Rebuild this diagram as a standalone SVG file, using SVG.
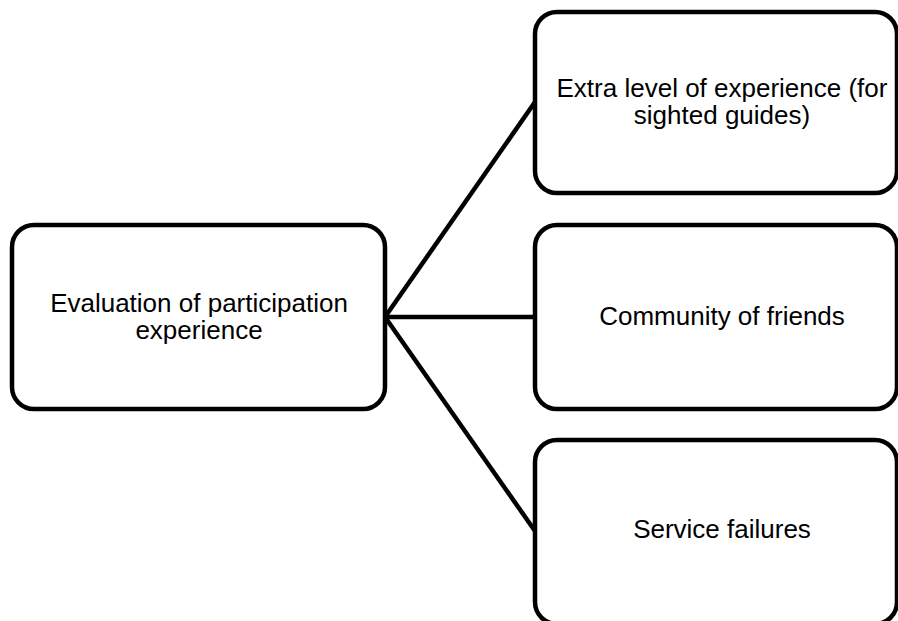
<svg xmlns="http://www.w3.org/2000/svg" width="898" height="621" viewBox="0 0 898 621">
  <style>
    .box { fill: #ffffff; stroke: #000000; stroke-width: 4.5; }
    .link { stroke: #000000; stroke-width: 4.5; fill: none; }
    .label { font-family: "Liberation Sans", Arial, sans-serif; font-size: 26px; fill: #000000; text-anchor: middle; }
  </style>
  <rect width="898" height="621" fill="#ffffff"/>

  <!-- connectors from the central node to each branch -->
  <g id="connectors">
    <line class="link" x1="385" y1="317" x2="535" y2="102"/>
    <line class="link" x1="385" y1="317" x2="535" y2="317"/>
    <line class="link" x1="385" y1="317" x2="535" y2="531"/>
  </g>

  <g id="node-evaluation">
    <rect class="box" x="12" y="225" width="373" height="184" rx="22" ry="22"/>
    <text class="label"><tspan x="199" y="312">Evaluation of participation</tspan><tspan x="199" y="338.5">experience</tspan></text>
  </g>

  <g id="node-extra-level">
    <rect class="box" x="535" y="12" width="362" height="181" rx="22" ry="22"/>
    <text class="label"><tspan x="722" y="97">Extra level of experience (for</tspan><tspan x="722" y="123.5">sighted guides)</tspan></text>
  </g>

  <g id="node-community">
    <rect class="box" x="535" y="225" width="362" height="184" rx="22" ry="22"/>
    <text class="label" x="722" y="325">Community of friends</text>
  </g>

  <g id="node-service">
    <rect class="box" x="535" y="440" width="362" height="184" rx="22" ry="22"/>
    <text class="label" x="722" y="538">Service failures</text>
  </g>
</svg>
